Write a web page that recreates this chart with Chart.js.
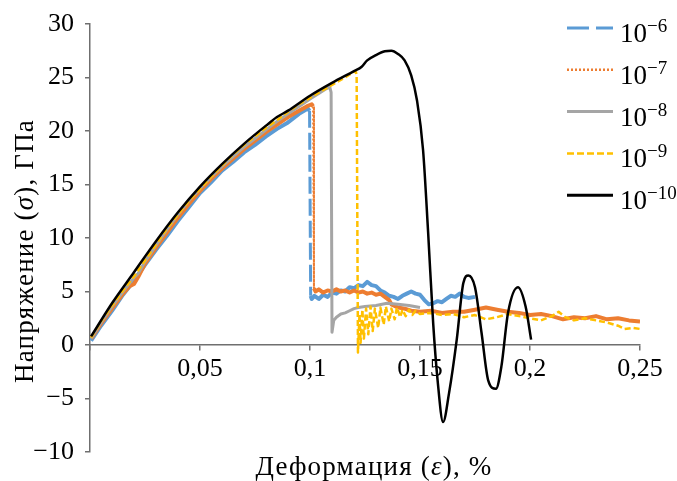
<!DOCTYPE html>
<html>
<head>
<meta charset="utf-8">
<script src="https://cdn.jsdelivr.net/npm/chart.js@4"></script>
<style>
  html, body { margin: 0; padding: 0; background: #fff; }
  #wrap { width: 677px; height: 481px; position: relative; }
</style>
</head>
<body>
<div id="wrap"><canvas id="chart"></canvas></div>
<script>
// strain (%) / stress (GPa) traces for each strain rate
const eps6 = [0.0005, 0.005, 0.01, 0.015, 0.02, 0.025, 0.03, 0.035, 0.04, 0.045, 0.05, 0.055, 0.06, 0.065, 0.07, 0.075, 0.08, 0.085, 0.09, 0.095, 0.099, 0.0998,
  0.1003, 0.1008, 0.102, 0.104, 0.106, 0.108, 0.11, 0.112, 0.114, 0.116, 0.118, 0.12, 0.122, 0.124, 0.126, 0.128, 0.13, 0.132, 0.134, 0.136, 0.138, 0.14,
  0.142, 0.144, 0.146, 0.148, 0.15, 0.152, 0.154, 0.156, 0.158, 0.16, 0.162, 0.164, 0.166, 0.168, 0.17, 0.172, 0.175];
const sig6 = [0.4, 1.8, 3.2, 4.7, 6.0, 7.5, 8.9, 10.2, 11.6, 12.9, 14.2, 15.2, 16.3, 17.1, 18.0, 18.7, 19.5, 20.2, 20.8, 21.6, 22.1, 21.9,
  4.6, 4.3, 4.6, 4.3, 4.7, 4.5, 4.9, 4.8, 5.1, 5.0, 5.4, 5.3, 5.6, 5.5, 5.9, 5.6, 5.5, 5.1, 4.9, 4.6, 4.5, 4.3,
  4.6, 4.8, 5.0, 4.8, 4.7, 4.2, 3.8, 3.9, 4.1, 4.0, 4.3, 4.6, 4.5, 4.8, 4.5, 4.4, 4.5];

const eps7 = [0.0005, 0.005, 0.01, 0.015, 0.018, 0.02, 0.022, 0.025, 0.03, 0.035, 0.04, 0.045, 0.05, 0.055, 0.06, 0.065, 0.07, 0.075, 0.08, 0.085, 0.09, 0.095, 0.0985, 0.1008, 0.1014,
  0.1018, 0.1025, 0.104, 0.106, 0.108, 0.11, 0.112, 0.114, 0.116, 0.118, 0.12, 0.122, 0.124, 0.126, 0.128, 0.13, 0.132, 0.134, 0.136, 0.137, 0.14, 0.143, 0.146,
  0.15, 0.155, 0.16, 0.165, 0.17, 0.175, 0.18, 0.185, 0.19, 0.195, 0.2, 0.205, 0.21, 0.215, 0.22, 0.225, 0.23, 0.235, 0.24, 0.245, 0.25];
const sig7 = [0.6, 2.0, 3.4, 4.8, 5.5, 5.7, 6.4, 7.6, 9.1, 10.5, 11.9, 13.2, 14.4, 15.5, 16.5, 17.4, 18.3, 19.1, 19.9, 20.6, 21.3, 21.9, 22.3, 22.5, 22.3,
  5.3, 5.0, 5.2, 4.9, 5.1, 5.0, 5.2, 5.0, 5.1, 4.9, 5.1, 4.9, 5.0, 4.8, 4.9, 4.7, 4.8, 4.5, 4.2, 3.8, 3.5, 3.4, 3.2,
  3.1, 3.2, 3.0, 3.1, 3.1, 3.3, 3.5, 3.3, 3.1, 3.0, 2.8, 2.9, 2.7, 2.4, 2.6, 2.5, 2.7, 2.4, 2.5, 2.3, 2.2];

const eps8 = [0.0005, 0.005, 0.01, 0.015, 0.02, 0.022, 0.025, 0.03, 0.035, 0.04, 0.045, 0.05, 0.055, 0.06, 0.065, 0.07, 0.075, 0.08, 0.085, 0.09, 0.095, 0.1, 0.104, 0.107, 0.109, 0.1096,
  0.11, 0.1108, 0.112, 0.114, 0.116, 0.118, 0.12, 0.122, 0.125, 0.13, 0.135, 0.14, 0.145, 0.15];
const sig8 = [0.6, 2.1, 3.6, 5.0, 6.3, 6.7, 7.8, 9.3, 10.8, 12.2, 13.5, 14.6, 15.7, 16.7, 17.6, 18.5, 19.3, 20.1, 20.9, 21.6, 22.3, 23.0, 23.5, 23.9, 24.1, 23.6,
  1.2, 2.3, 2.6, 2.9, 3.0, 3.2, 3.4, 3.5, 3.6, 3.7, 3.9, 3.8, 3.7, 3.5];

const eps9 = [0.0005, 0.005, 0.01, 0.015, 0.02, 0.025, 0.03, 0.035, 0.04, 0.045, 0.05, 0.055, 0.06, 0.065, 0.07, 0.075, 0.08, 0.085, 0.09, 0.095, 0.1, 0.105, 0.11, 0.115, 0.119, 0.1208, 0.1212,
  0.1218, 0.1225, 0.123, 0.1238, 0.1245, 0.1255, 0.1265, 0.1275, 0.1285, 0.1295, 0.131, 0.132, 0.1335, 0.1345, 0.136, 0.137, 0.1385, 0.1395, 0.141, 0.142, 0.1435, 0.145, 0.1465, 0.148,
  0.15, 0.155, 0.16, 0.165, 0.17, 0.175, 0.18, 0.185, 0.19, 0.195, 0.2, 0.205, 0.21, 0.213, 0.216, 0.22, 0.225, 0.23, 0.235, 0.24, 0.243, 0.247, 0.25];
const sig9 = [0.7, 2.2, 3.7, 5.1, 6.4, 7.9, 9.4, 10.9, 12.2, 13.5, 14.6, 15.7, 16.8, 17.8, 18.7, 19.5, 20.3, 21.0, 21.8, 22.5, 23.1, 23.7, 24.3, 24.9, 25.4, 25.6, 25.2,
  -0.7, 2.9, 0.2, 3.3, 0.6, 3.4, 1.0, 3.6, 1.3, 3.4, 1.6, 3.5, 1.9, 3.6, 2.2, 3.4, 2.4, 3.5, 2.6, 3.3, 2.7, 3.3, 2.8, 3.2,
  2.9, 3.0, 2.8, 2.9, 2.6, 2.8, 2.4, 2.6, 2.9, 2.7, 2.5, 2.3, 2.7, 3.1, 2.6, 2.3, 2.5, 2.3, 2.1, 1.8, 1.5, 1.6, 1.5];

const eps10 = [0.0005, 0.01, 0.02, 0.03, 0.04, 0.05, 0.06, 0.07, 0.08, 0.085, 0.09, 0.1, 0.11, 0.12, 0.1235, 0.126, 0.13, 0.134, 0.137, 0.14, 0.143, 0.146, 0.1486,
  0.1514, 0.1537, 0.156, 0.158, 0.1605, 0.1632, 0.1667, 0.1697, 0.172, 0.175, 0.178, 0.181, 0.1845, 0.187, 0.19, 0.1945, 0.198, 0.2005];
const sig10 = [0.8, 3.9, 6.8, 9.7, 12.4, 14.8, 16.9, 18.8, 20.5, 21.3, 21.9, 23.3, 24.5, 25.6, 26.0, 26.6, 27.1, 27.45, 27.5, 27.2, 26.6, 25.2, 22.9,
  18.2, 10.5, 2.0, -3.3, -7.2, -4.5, 0.5, 5.8, 6.5, 5.4, 1.1, -3.3, -4.1, -2.0, 3.0, 5.4, 3.6, 0.5];

const rateExp = ['\u22126', '\u22127', '\u22128', '\u22129', '\u221210'];
const xTicks = [0, 0.05, 0.1, 0.15, 0.2, 0.25];
const yTicks = [-10, -5, 0, 5, 10, 15, 20, 25, 30];

const serif = "'Liberation Serif', 'DejaVu Serif', serif";
const axisColor = '#6f6f6f';

const toPoints = (xs, ys) => xs.map((x, i) => ({ x, y: ys[i] }));

// the vertical fracture drop gets the dash, the noisy parts stay solid
const isDrop = (ctx) => Math.abs(ctx.p1.parsed.y - ctx.p0.parsed.y) > 8;
const dropStyle = (dash, width) => ({
  borderDash: (ctx) => (isDrop(ctx) ? dash : undefined),
  borderWidth: (ctx) => (isDrop(ctx) ? width : undefined),
});

const series = [
  { exp: rateExp[0], xs: eps6, ys: sig6, color: '#5b9bd5', width: 4, legendWidth: 3, legendDash: [22, 7], segment: dropStyle([17, 5], 3), order: 4 },
  { exp: rateExp[1], xs: eps7, ys: sig7, color: '#ed7d31', width: 4, legendWidth: 2.5, legendDash: [2, 2], segment: dropStyle([2, 2], 2), order: 3 },
  { exp: rateExp[2], xs: eps8, ys: sig8, color: '#a5a5a5', width: 3, legendWidth: 3, legendDash: [], order: 2 },
  { exp: rateExp[3], xs: eps9, ys: sig9, color: '#ffc000', width: 2.5, dash: [6, 3], legendWidth: 2.5, legendDash: [7, 3], order: 1 },
  { exp: rateExp[4], xs: eps10, ys: sig10, color: '#000000', width: 2.5, legendWidth: 3, legendDash: [], tension: 0.4, order: 0 },
];

const legendPlugin = {
  id: 'rateLegend',
  afterDraw(chart) {
    const ctx = chart.ctx;
    ctx.save();
    series.forEach((s, i) => {
      const y = 28 + i * 41.8;
      ctx.beginPath();
      ctx.setLineDash(s.legendDash);
      ctx.strokeStyle = s.color;
      ctx.lineWidth = s.legendWidth;
      ctx.moveTo(567, y);
      ctx.lineTo(613, y);
      ctx.stroke();
      ctx.setLineDash([]);
      ctx.fillStyle = '#000';
      ctx.textBaseline = 'alphabetic';
      ctx.textAlign = 'left';
      ctx.font = `27px ${serif}`;
      ctx.fillText('10', 620, y + 14);
      const w = ctx.measureText('10').width;
      ctx.font = `19px ${serif}`;
      ctx.fillText(s.exp, 620 + w, y + 4);
    });
    ctx.restore();
  },
};

// axis titles with italic greek symbols
const drawParts = (ctx, parts, cx, baseline) => {
  let total = 0;
  parts.forEach((p) => {
    ctx.font = p.font;
    total += ctx.measureText(p.text).width;
  });
  let x = cx - total / 2;
  parts.forEach((p) => {
    ctx.font = p.font;
    ctx.fillText(p.text, x, baseline);
    x += ctx.measureText(p.text).width;
  });
};

const titlePlugin = {
  id: 'axisTitles',
  afterDraw(chart) {
    const ctx = chart.ctx;
    const up = `27px ${serif}`;
    const it = `italic 27px ${serif}`;
    ctx.save();
    ctx.fillStyle = '#000';
    ctx.textAlign = 'left';
    ctx.textBaseline = 'alphabetic';
    ctx.letterSpacing = '1.2px';
    drawParts(ctx, [{ text: 'Деформация (', font: up }, { text: 'ε', font: it }, { text: '), %', font: up }], 374, 475);
    ctx.translate(33, 251);
    ctx.rotate(-Math.PI / 2);
    drawParts(ctx, [{ text: 'Напряжение (', font: up }, { text: 'σ', font: it }, { text: '), ГПа', font: up }], 0, 0);
    ctx.restore();
  },
};

new Chart(document.getElementById('chart'), {
  type: 'line',
  data: {
    datasets: series.map((s) => ({
      label: '10' + s.exp,
      data: toPoints(s.xs, s.ys),
      borderColor: s.color,
      backgroundColor: s.color,
      borderWidth: s.width,
      borderDash: s.dash || [],
      borderJoinStyle: 'round',
      pointRadius: 0,
      tension: s.tension || 0,
      cubicInterpolationMode: s.tension ? 'monotone' : 'default',
      segment: s.segment,
      order: s.order,
      fill: false,
    })),
  },
  options: {
    responsive: true,
    maintainAspectRatio: false,
    animation: false,
    layout: { padding: { left: 0, top: 24, right: 37, bottom: 29 } },
    plugins: { legend: { display: false }, tooltip: { enabled: false } },
    scales: {
      x: {
        type: 'linear',
        position: { y: 0 },
        min: 0,
        max: 0.25,
        afterBuildTicks: (scale) => { scale.ticks = xTicks.map((v) => ({ value: v })); },
        ticks: {
          autoSkip: false,
          maxRotation: 0,
          padding: 4,
          color: '#000',
          font: { family: serif, size: 26 },
          callback: (v) => (v === 0 ? '' : String(+v.toFixed(2)).replace('.', ',')),
        },
        grid: { drawOnChartArea: false, drawTicks: true, tickLength: 5, color: axisColor, lineWidth: 1.5 },
        border: { display: true, color: axisColor, width: 1.5 },
      },
      y: {
        min: -10,
        max: 30,
        afterBuildTicks: (scale) => { scale.ticks = yTicks.map((v) => ({ value: v })); },
        afterFit: (scale) => {
          scale.width = 90;
          scale.paddingTop = 0;
          scale.paddingBottom = 0;
        },
        ticks: {
          padding: 11,
          color: '#000',
          font: { family: serif, size: 26 },
          callback: (v) => (v < 0 ? '\u2212' + Math.abs(v) : String(v)),
        },
        grid: { drawOnChartArea: false, drawTicks: true, tickLength: 5, color: axisColor, lineWidth: 1.5 },
        border: { display: true, color: axisColor, width: 1.5 },
      },
    },
  },
  plugins: [legendPlugin, titlePlugin],
});
</script>
</body>
</html>
